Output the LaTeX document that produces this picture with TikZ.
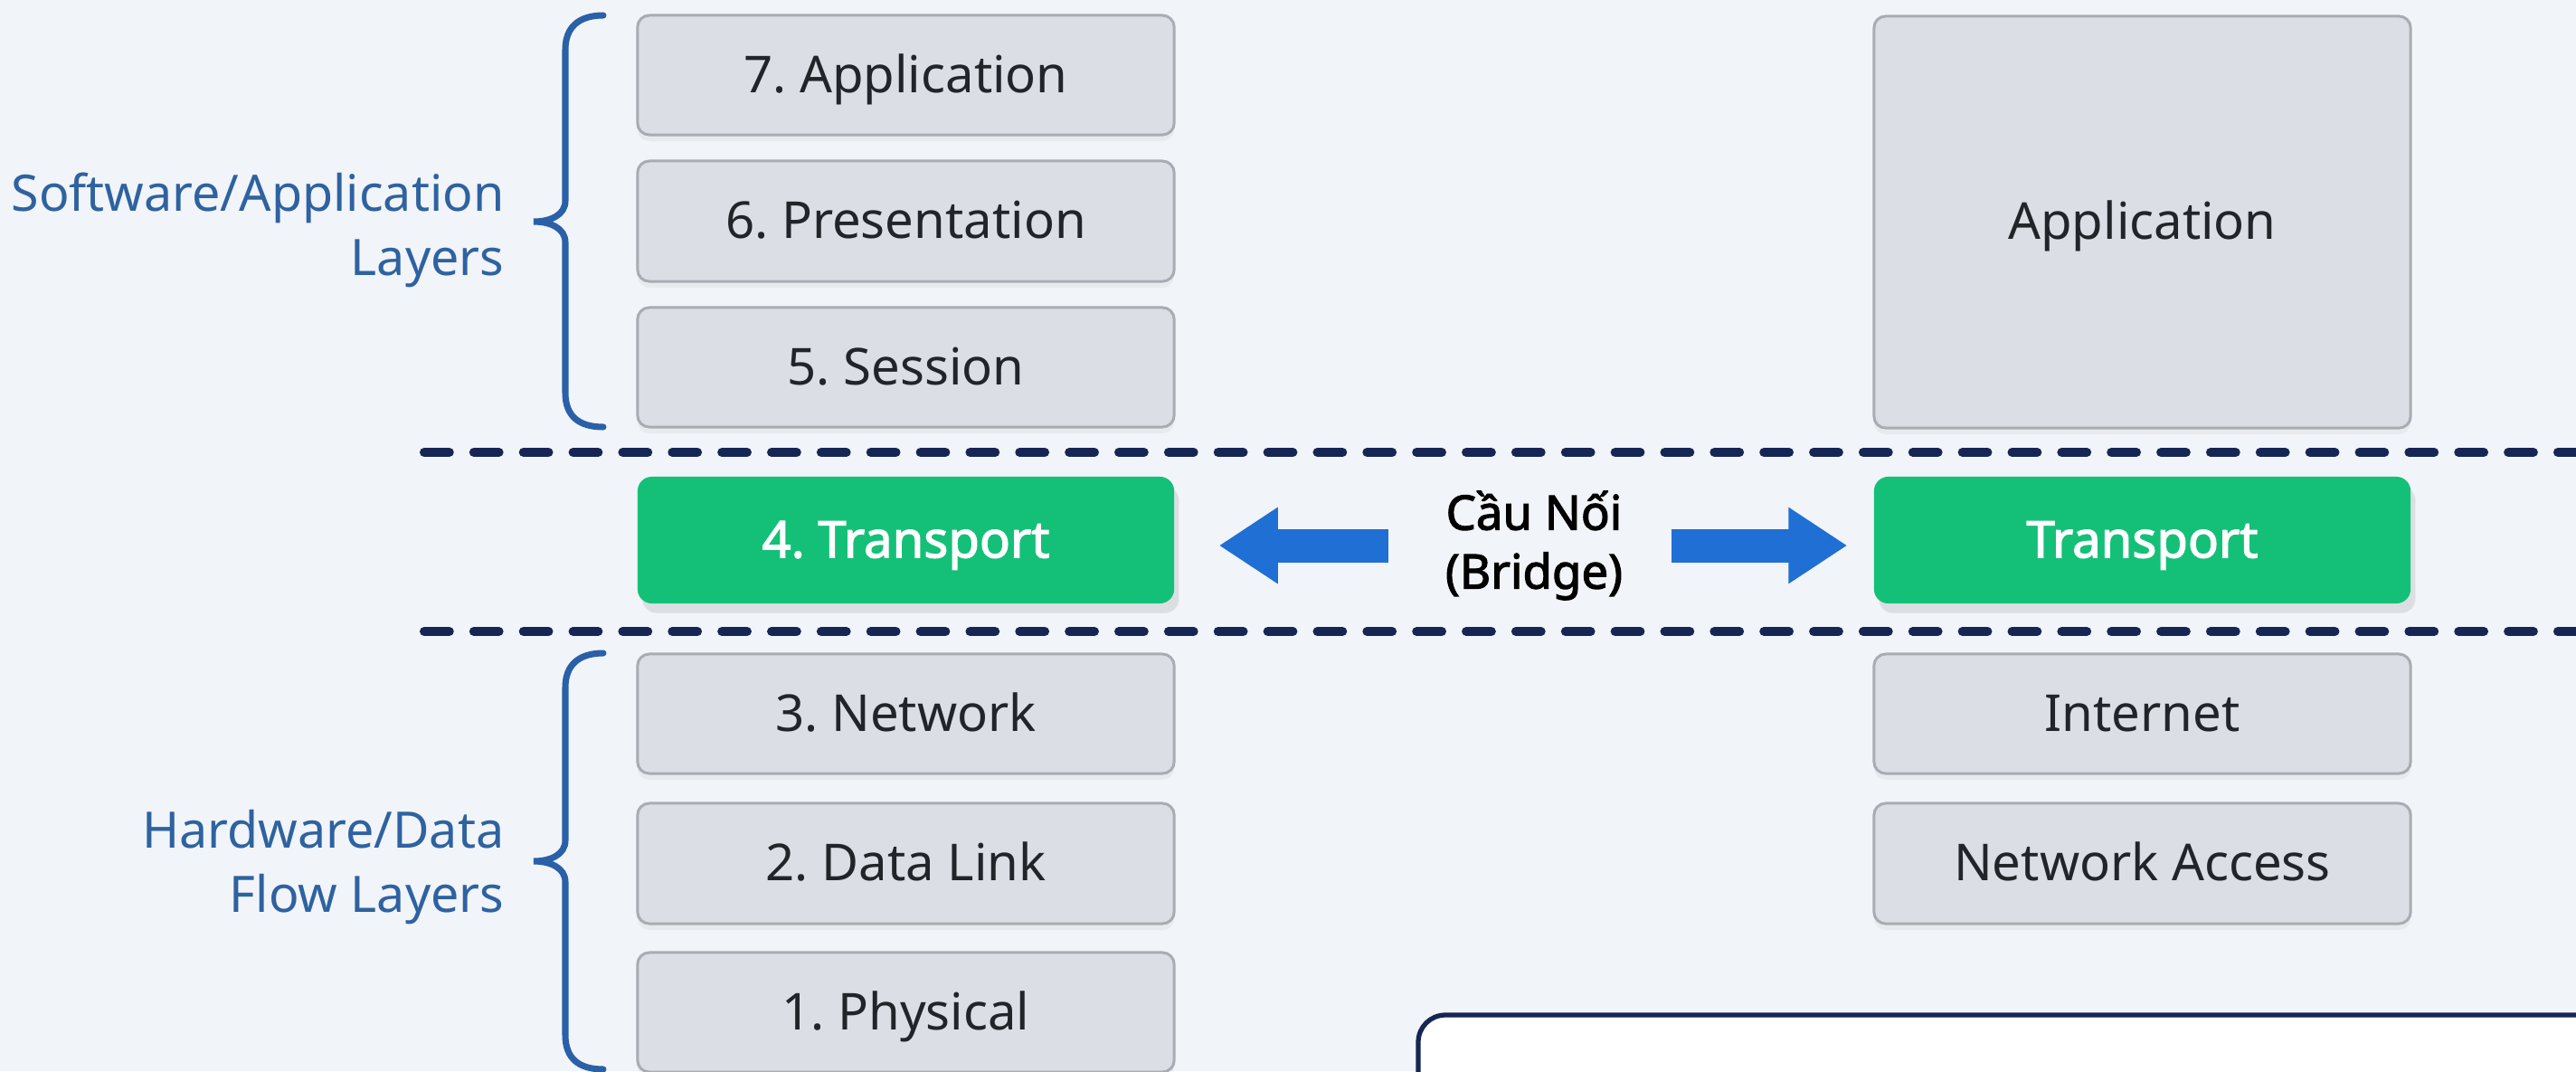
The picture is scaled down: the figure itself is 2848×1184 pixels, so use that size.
\documentclass[tikz,border=0pt]{standalone}
\usepackage{fontspec}
\setmainfont{Noto Sans}[BoldFont={Noto Sans}, BoldFeatures={FakeBold=2.2}]
\frenchspacing
\usetikzlibrary{arrows.meta,shadows}
\definecolor{bg}{RGB}{241,244,248}
\definecolor{boxfill}{RGB}{219,223,229}
\definecolor{boxline}{RGB}{168,172,179}
\definecolor{tgreen}{RGB}{20,192,120}
\definecolor{navy}{RGB}{22,38,84}
\definecolor{arrowblue}{RGB}{31,111,212}
\definecolor{braceblue}{RGB}{42,96,168}
\definecolor{labelblue}{RGB}{46,98,160}
\definecolor{txt}{RGB}{33,37,41}
\begin{document}
\begin{tikzpicture}[x=0.01cm,y=-0.01cm,
  layer/.style={draw=boxline, line width=0.85pt, fill=boxfill, rounded corners=3.7pt,
    minimum width=5.93cm, minimum height=1.32cm, inner sep=0pt, text=txt,
    font=\fontsize{16}{19}\selectfont, text height=11pt, text depth=0pt,
    drop shadow={opacity=0.08, shadow xshift=0pt, shadow yshift=-2pt}},
  tbox/.style={draw=none, fill=tgreen, rounded corners=4.5pt,
    minimum width=5.93cm, minimum height=1.40cm, inner sep=0pt, text=white,
    font=\bfseries\fontsize{16}{19}\selectfont, text height=11pt, text depth=0pt,
    drop shadow={opacity=0.18, shadow xshift=1.5pt, shadow yshift=-3pt}},
  sidelabel/.style={anchor=east, align=right, inner sep=0pt, text=labelblue,
    font=\fontsize{15.8}{20.2}\selectfont},
  bridgelabel/.style={align=center, inner sep=0pt, minimum width=3cm, text=black,
    font=\bfseries\fontsize{15}{18.5}\selectfont},
  divider/.style={draw=navy, line width=2.85pt, line cap=round,
    dash pattern=on 7.9pt off 7.7pt},
  bracepath/.style={draw=braceblue, line width=2pt, line cap=round},
  bridgearrow/.style={draw=arrowblue, line width=0.37cm,
    -{Triangle[length=0.65cm, width=0.8cm]}},
  notebox/.style={draw=navy, line width=1.5pt, fill=white, rounded corners=8.5pt}
]
\useasboundingbox (0,0) rectangle (2848,1184);
\clip (0,0) rectangle (2848,1184);
\fill[bg] (0,0) rectangle (2848,1184);

% dividers
\coordinate (d1a) at (469,500);
\coordinate (d1b) at (2870,500);
\coordinate (d2a) at (469,698);
\coordinate (d2b) at (2870,698);
\draw[divider] (d1a) -- (d1b);
\draw[divider] (d2a) -- (d2b);

% OSI stack
\node[layer] (l7) at (1001.5,83) {7. Application};
\node[layer, minimum height=1.33cm] (l6) at (1001.5,244.5) {6. Presentation};
\node[layer] (l5) at (1001.5,406) {5. Session};
\node[tbox] (l4) at (1001.5,597) {4. Transport};
\node[layer] (l3) at (1001.5,789) {3. Network};
\node[layer, minimum height=1.33cm] (l2) at (1001.5,954.5) {2. Data Link};
\node[layer] (l1) at (1001.5,1119) {1. Physical};

% TCP/IP stack
\node[layer, minimum height=4.55cm] (tapp) at (2368.5,245.5) {Application};
\node[tbox] (ttr) at (2368.5,597) {Transport};
\node[layer] (tint) at (2368.5,789) {Internet};
\node[layer, minimum height=1.33cm] (tna) at (2368.5,954.5) {Network Access};

% braces
\draw[bracepath] (667,17) .. controls (640,17) and (625,30) .. (625,55)
  -- (625,222) .. controls (625,238) and (608,245) .. (590,245)
  .. controls (608,245) and (625,252) .. (625,268)
  -- (625,434) .. controls (625,460) and (640,472) .. (667,472);
\draw[bracepath] (667,722) .. controls (640,722) and (625,735) .. (625,760)
  -- (625,929) .. controls (625,945) and (608,952) .. (590,952)
  .. controls (608,952) and (625,959) .. (625,975)
  -- (625,1144) .. controls (625,1170) and (640,1182) .. (667,1182);

% side labels
\node[sidelabel] (swl) at (558,254) {Software/Application\\Layers};
\node[sidelabel] (hwl) at (558,959) {Hardware/Data\\Flow Layers};

% bridge
\node[bridgelabel] (bridge) at (1696,603) {Cầu Nối\\(Bridge)};
\draw[bridgearrow, shorten <=3pt, shorten >=13.9pt] (bridge.west) -- (bridge.west -| l4.east);
\draw[bridgearrow, shorten <=0.3pt, shorten >=8.2pt] (bridge.east) -- (bridge.east -| ttr.west);

% note box (cut off by the lower edge)
\draw[notebox] (1568,1122) rectangle (2900,1320);
\end{tikzpicture}
\end{document}
